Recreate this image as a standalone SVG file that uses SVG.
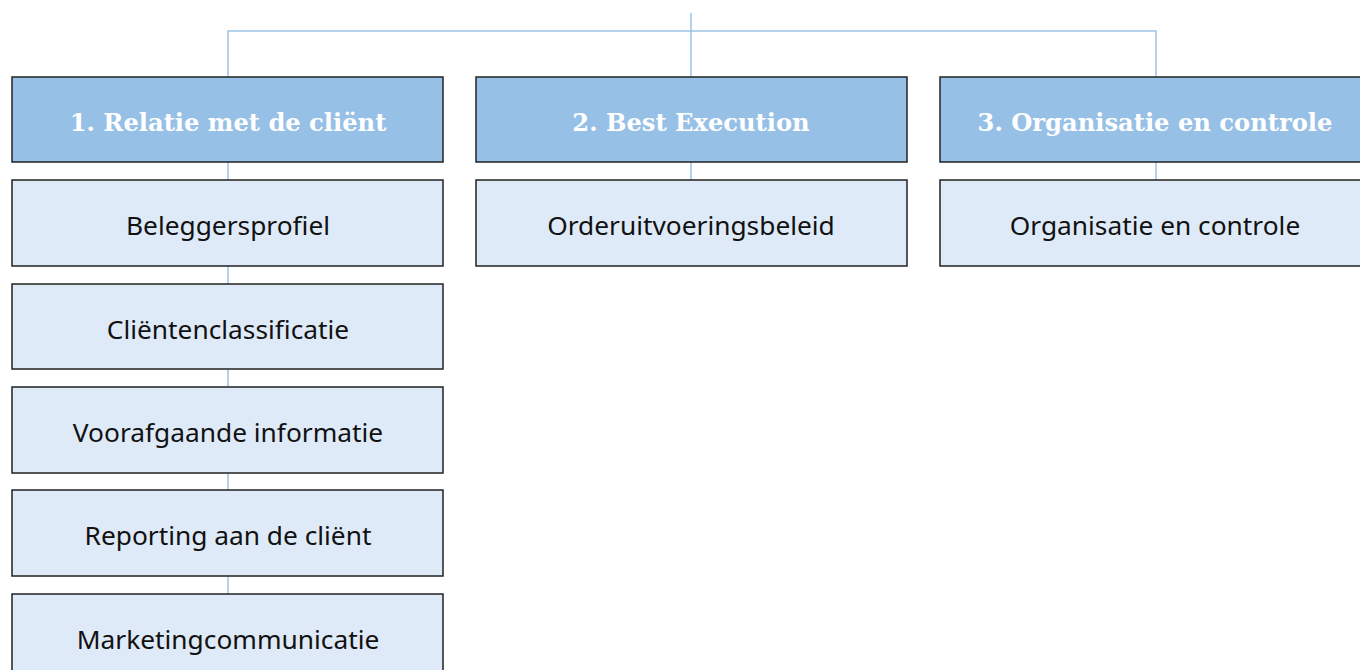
<svg xmlns="http://www.w3.org/2000/svg" width="1360" height="670" viewBox="0 0 1360 670">
<style>
.con{stroke:#9dc3e6;stroke-width:1.5;fill:none}
.hdr{fill:#97c0e6;stroke:#222;stroke-width:1.5}
.sub{fill:#deeaf7;stroke:#222;stroke-width:1.5}
.ht{font-family:"DejaVu Serif","Liberation Serif",serif;font-weight:bold;font-size:24.2px;fill:#ffffff;text-anchor:middle}
.st{font-family:"Noto Sans","Open Sans",sans-serif;font-size:26.3px;fill:#111;text-anchor:middle}
</style>
<rect width="1360" height="670" fill="#ffffff"/>
<g id="connectors">
<path class="con" d="M691,13 V77 M228,77 V31 H1156 V77"/>
<path class="con" d="M228,162 V594"/>
<path class="con" d="M691,162 V180"/>
<path class="con" d="M1156,162 V180"/>
</g>
<g id="h1"><rect class="hdr" x="12" y="77" width="431" height="85"/><text class="ht" x="228" y="131">1. Relatie met de cliënt</text></g>
<g id="h2"><rect class="hdr" x="476" y="77" width="431" height="85"/><text class="ht" x="691" y="131">2. Best Execution</text></g>
<g id="h3"><rect class="hdr" x="940" y="77" width="431" height="85"/><text class="ht" x="1155" y="131">3. Organisatie en controle</text></g>
<g id="s1"><rect class="sub" x="12" y="180" width="431" height="86"/><text class="st" x="228" y="235">Beleggersprofiel</text></g>
<g id="s2"><rect class="sub" x="12" y="284" width="431" height="85"/><text class="st" x="228" y="339">Cliëntenclassificatie</text></g>
<g id="s3"><rect class="sub" x="12" y="387" width="431" height="86"/><text class="st" x="228" y="442">Voorafgaande informatie</text></g>
<g id="s4"><rect class="sub" x="12" y="490" width="431" height="86"/><text class="st" x="228" y="545">Reporting aan de cliënt</text></g>
<g id="s5"><rect class="sub" x="12" y="594" width="431" height="86"/><text class="st" x="228" y="649">Marketingcommunicatie</text></g>
<g id="s6"><rect class="sub" x="476" y="180" width="431" height="86"/><text class="st" x="691" y="235">Orderuitvoeringsbeleid</text></g>
<g id="s7"><rect class="sub" x="940" y="180" width="431" height="86"/><text class="st" x="1155" y="235">Organisatie en controle</text></g>
</svg>
